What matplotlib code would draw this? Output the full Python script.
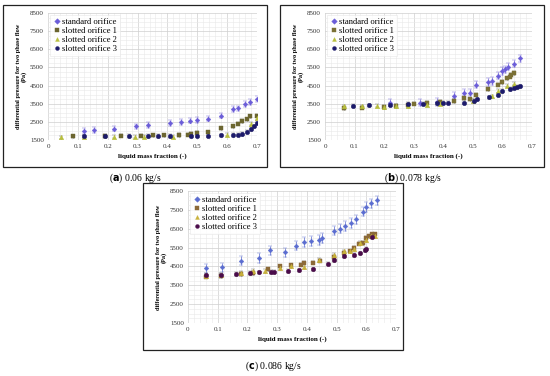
import matplotlib
matplotlib.use("Agg")
import matplotlib.pyplot as plt
from matplotlib.patches import Rectangle
from matplotlib.lines import Line2D
from matplotlib.ticker import MultipleLocator

# ---- data ----
labels = ["standard orifice", "slotted orifice 1", "slotted orifice 2", "slotted orifice 3"]

# (a) 0.06 kg/s
a_std_x = [0.12, 0.155, 0.22, 0.295, 0.335, 0.41, 0.445, 0.475, 0.5, 0.535, 0.58, 0.62, 0.635, 0.66, 0.675, 0.7]
a_std_y = [2000, 2050, 2120, 2250, 2320, 2430, 2500, 2570, 2600, 2680, 2850, 3200, 3250, 3480, 3600, 3750]
a_s1_x = [0.085, 0.19, 0.245, 0.31, 0.35, 0.39, 0.44, 0.47, 0.48, 0.5, 0.535, 0.58, 0.62, 0.635, 0.65, 0.665, 0.675, 0.7]
a_s1_y = [1700, 1720, 1740, 1740, 1750, 1750, 1780, 1800, 1850, 1900, 1920, 2150, 2250, 2400, 2550, 2650, 2800, 2850]
a_s2_x = [0.045, 0.12, 0.22, 0.29, 0.32, 0.42, 0.6, 0.68, 0.7]
a_s2_y = [1650, 1680, 1680, 1680, 1690, 1680, 1800, 2400, 2700]
a_s3_x = [0.12, 0.19, 0.27, 0.335, 0.37, 0.41, 0.48, 0.5, 0.535, 0.58, 0.62, 0.635, 0.65, 0.665, 0.68, 0.69, 0.7]
a_s3_y = [1700, 1700, 1720, 1720, 1720, 1720, 1720, 1730, 1730, 1760, 1780, 1800, 1830, 1950, 2100, 2250, 2450]

# (b) 0.078 kg/s
b_std_x = [0.22, 0.32, 0.38, 0.435, 0.47, 0.49, 0.51, 0.55, 0.565, 0.585, 0.6, 0.61, 0.62, 0.64, 0.66]
b_std_y = [3550, 3550, 3600, 3950, 4100, 4100, 4550, 4700, 4750, 5050, 5300, 5400, 5550, 5700, 6000]
b_s1_x = [0.065, 0.125, 0.2, 0.24, 0.28, 0.3, 0.345, 0.39, 0.435, 0.47, 0.49, 0.51, 0.55, 0.585, 0.6, 0.615, 0.625, 0.63, 0.64]
b_s1_y = [3250, 3280, 3320, 3380, 3420, 3500, 3550, 3620, 3650, 3800, 3750, 4000, 4300, 4550, 4700, 4900, 5000, 5100, 5200]
b_s2_x = [0.065, 0.125, 0.175, 0.2, 0.24, 0.28, 0.345, 0.39, 0.5, 0.565, 0.585, 0.615, 0.64]
b_s2_y = [3350, 3350, 3400, 3300, 3400, 3380, 3450, 3500, 3650, 3900, 4200, 4500, 4600]
b_s3_x = [0.095, 0.15, 0.22, 0.28, 0.33, 0.38, 0.4, 0.415, 0.47, 0.505, 0.515, 0.555, 0.585, 0.6, 0.625, 0.64, 0.65, 0.66]
b_s3_y = [3400, 3420, 3450, 3480, 3500, 3530, 3550, 3550, 3550, 3650, 3750, 3850, 4000, 4200, 4300, 4380, 4420, 4450]

# (c) 0.086 kg/s
c_std_x = [0.06, 0.115, 0.18, 0.24, 0.275, 0.325, 0.365, 0.39, 0.415, 0.44, 0.45, 0.49, 0.51, 0.53, 0.55, 0.565, 0.59, 0.6, 0.615, 0.635]
c_std_y = [4400, 4450, 4800, 4950, 5350, 5250, 5600, 5800, 5850, 5900, 6000, 6400, 6500, 6650, 6800, 7000, 7400, 7650, 7850, 8000]
c_s1_x = [0.06, 0.11, 0.18, 0.22, 0.27, 0.31, 0.345, 0.38, 0.39, 0.42, 0.445, 0.49, 0.525, 0.545, 0.56, 0.575, 0.59, 0.6, 0.61, 0.62, 0.63]
c_s1_y = [3950, 4000, 4100, 4150, 4350, 4500, 4550, 4600, 4700, 4700, 4800, 5000, 5200, 5300, 5500, 5700, 5750, 6000, 6100, 6200, 6200]
c_s2_x = [0.06, 0.11, 0.18, 0.22, 0.26, 0.31, 0.345, 0.39, 0.44, 0.49, 0.525, 0.545, 0.56, 0.58, 0.6, 0.615, 0.63]
c_s2_y = [4000, 4050, 4150, 4250, 4250, 4400, 4500, 4450, 4850, 5100, 5300, 5300, 5400, 5750, 5900, 6100, 6100]
c_s3_x = [0.06, 0.11, 0.16, 0.21, 0.24, 0.28, 0.29, 0.335, 0.375, 0.42, 0.47, 0.49, 0.525, 0.56, 0.58, 0.595, 0.6, 0.62]
c_s3_y = [4050, 4050, 4100, 4150, 4180, 4200, 4200, 4250, 4300, 4350, 4650, 4850, 5050, 5100, 5200, 5350, 5450, 6050]

std_err = [150, 200, 250]
slot_err = 90

y_ticks = [1500, 2500, 3500, 4500, 5500, 6500, 7500, 8500]
x_ticks = [0, 0.1, 0.2, 0.3, 0.4, 0.5, 0.6, 0.7]
x_ticklabels = ["0", "0.1", "0.2", "0.3", "0.4", "0.5", "0.6", "0.7"]

panels = [
    ("a", "0.06 kg/s", [(a_std_x, a_std_y), (a_s1_x, a_s1_y), (a_s2_x, a_s2_y), (a_s3_x, a_s3_y)]),
    ("b", "0.078 kg/s", [(b_std_x, b_std_y), (b_s1_x, b_s1_y), (b_s2_x, b_s2_y), (b_s3_x, b_s3_y)]),
    ("c", "0.086 kg/s", [(c_std_x, c_std_y), (c_s1_x, c_s1_y), (c_s2_x, c_s2_y), (c_s3_x, c_s3_y)]),
]

# pixel boxes (left, top, right, bottom) for axes, frames and caption centres
W, H = 550, 376
axes_px = [(48, 13, 257, 140), (325, 13, 532, 140), (188, 191, 396, 323)]
frame_px = [(3, 5, 267, 167), (280, 5, 544, 167), (143, 183, 403, 350)]
caption_px = [(135, 178), (413, 178), (273, 366)]

colors = [
    ["#6a5cd8", "#6b6530", "#b8bf3c", "#1c1a6a"],
    ["#6a5cd8", "#7a7035", "#b8bf3c", "#1c1a6a"],
    ["#5a6cd0", "#8c6a38", "#c9b23a", "#4a0c4a"],
]
markers = ["D", "s", "^", "o"]
msizes = [2.4, 3.2, 3.2, 3.2]

serif = "Liberation Serif"
plt.rcParams["font.family"] = serif

fig = plt.figure(figsize=(W / 100, H / 100), dpi=100)

for i, (tag, cap, series) in enumerate(panels):
    l, t, r, b = frame_px[i]
    fig.patches.append(Rectangle((l / W, 1 - b / H), (r - l) / W, (b - t) / H,
                                 transform=fig.transFigure, fill=False,
                                 edgecolor="#222222", linewidth=0.9))
    l, t, r, b = axes_px[i]
    ax = fig.add_axes([l / W, 1 - b / H, (r - l) / W, (b - t) / H])
    handles = []
    for k, (xs, ys) in enumerate(series):
        err = std_err[i] if k == 0 else slot_err
        ax.errorbar(xs, ys, yerr=err, fmt=markers[k], ms=msizes[k],
                    color=colors[i][k], ecolor=colors[i][k] if k == 0 else "#666666",
                    elinewidth=0.5, capsize=1.3, capthick=0.5, mew=0.3, zorder=3)
        handles.append(Line2D([], [], linestyle="none", marker=markers[k], ms=2.8,
                              color=colors[i][k], mew=0.3, label=labels[k]))
    ax.set_xlim(0, 0.7)
    ax.set_ylim(1500, 8500)
    ax.set_xticks(x_ticks)
    ax.set_xticklabels(x_ticklabels)
    ax.set_yticks(y_ticks)
    ax.xaxis.set_minor_locator(MultipleLocator(0.02))
    ax.yaxis.set_minor_locator(MultipleLocator(250))
    ax.grid(which="major", color="#cfcfcf", linewidth=0.5)
    ax.grid(which="minor", color="#e8e8e8", linewidth=0.4)
    ax.set_axisbelow(True)
    for s in ax.spines.values():
        s.set_visible(False)
    ax.tick_params(which="both", length=0, labelsize=5, pad=3, colors="#333333")
    ax.set_xlabel("liquid mass fraction (-)", fontsize=5, fontweight="bold", labelpad=3)
    ax.set_ylabel("differential pressure for two phase flow\n(Pa)", fontsize=4.5,
                  fontweight="bold", labelpad=2, linespacing=1.0)
    leg = ax.legend(handles=handles, loc="upper left", fontsize=6.2, frameon=True,
                    fancybox=False, borderpad=0.35, handletextpad=0.1, handlelength=0.9,
                    labelspacing=0.1, borderaxespad=0.25)
    leg.get_frame().set_edgecolor("#e6e6e6")
    leg.get_frame().set_linewidth(0.5)
    cx, cy = caption_px[i]
    fig.text(cx / W, 1 - cy / H, r"($\bf{%s}$) %s" % (tag, cap), ha="center", va="center",
             fontsize=7, family=serif)

fig.savefig("out.png", dpi=100)
